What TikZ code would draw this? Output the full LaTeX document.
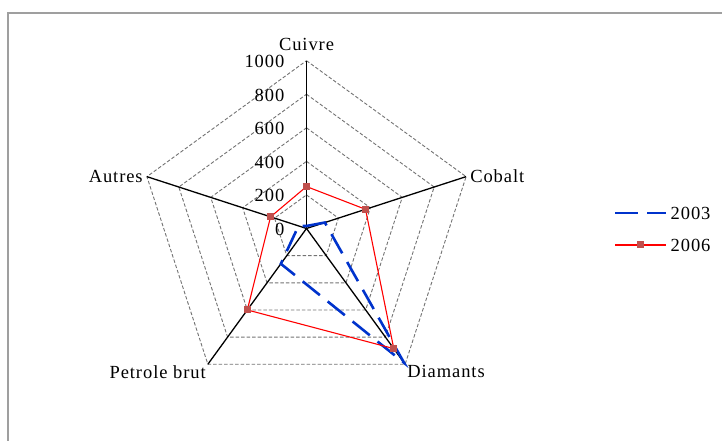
\documentclass[tikz,border=0pt]{standalone}
\usepackage{fontspec}
\setmainfont{Liberation Serif}[LetterSpace=5]
\usepackage{tikz}
\usetikzlibrary{arrows.meta}

\definecolor{serblue}{RGB}{0,51,204}
\definecolor{markred}{RGB}{192,80,77}
\newcommand{\unitR}{0.1678}

\tikzset{
  gridline/.style={black!55, dash pattern=on 3.5pt off 2pt, line width=0.9pt},
  spoke/.style={black, line width=1.3pt},
  ser03/.style={serblue, line width=2.6pt, dash pattern=on 22pt off 10pt},
  ser06/.style={red, line width=1.1pt},
  mark06/.style={fill=markred, inner sep=0pt, minimum size=7pt},
  axlabel/.style={inner sep=2pt},
}

\begin{document}
\begin{tikzpicture}[x=1pt, y=1pt, font=\fontsize{18.5}{20}\selectfont]
    \useasboundingbox (-306.5, -212.5) rectangle (415.5, 228.5); % REMOVE ME
    \draw[gray!75, line width=1.2pt] (-298.5, -212.5) -- (-298.5, 215.5) -- (415.5, 215.5);

    % grid
    \foreach \v in {200, 400, 600, 800, 1000}
        \draw[gridline] (90:\v*\unitR) -- (18:\v*\unitR) -- (-54:\v*\unitR)
            -- (-126:\v*\unitR) -- (162:\v*\unitR) -- cycle;

    % spokes
    \coordinate (o) at (0, 0);
    \foreach \ax/\ang in {cu/90, co/18, di/-54, pe/-126, au/162} {
        \coordinate (\ax) at (\ang:1000*\unitR);
        \draw[spoke] (o) -- (\ax);
    }

    % scale
    \foreach \v in {0, 200, 400, 600, 800, 1000}
        \node[anchor=east, inner sep=0pt] (t\v) at (-22, \v*\unitR-1) {\v};

    \node[axlabel, anchor=south] (lcu) at ([yshift=8pt]cu) {Cuivre};
    \node[axlabel, anchor=west] (lco) at ([xshift=2pt]co) {Cobalt};
    \node[axlabel, anchor=north west] (ldi) at ([yshift=1pt]di) {Diamants};
    \node[axlabel, anchor=north east] (lpe) at ([yshift=1pt]pe) {Petrole brut};
    \node[axlabel, anchor=east] (lau) at ([xshift=-2pt]au) {Autres};

    % 2003
    \foreach \ax/\ang/\v in {cu/90/15, co/18/115, di/-54/990, pe/-126/260, au/162/50}
        \coordinate (a\ax) at (\ang:\v*\unitR);
    \draw[ser03] (acu) -- (aco) -- (adi) -- (ape) -- (aau) -- cycle;

    % 2006
    \foreach \ax/\ang/\v in {cu/90/250, co/18/370, di/-54/885, pe/-126/600, au/162/225}
        \coordinate (b\ax) at (\ang:\v*\unitR);
    \draw[ser06] (bcu) -- (bco) -- (bdi) -- (bpe) -- (bau) -- cycle;
    \foreach \ax in {cu, co, di, pe, au}
        \node[mark06] (m\ax) at (b\ax) {};

    % legend
    \coordinate (k03a) at (308.5, 15.5);
    \coordinate (k03b) at (359.5, 15.5);
    \draw[ser03, dash pattern=on 23pt off 9pt] (k03a) -- (k03b);
    \node[anchor=west, inner sep=0pt] (k03) at (364, 15.5) {2003};
    \coordinate (k06a) at (308.5, -16.5);
    \coordinate (k06b) at (359.5, -16.5);
    \draw[ser06] (k06a) -- (k06b);
    \node[mark06] (k06m) at (334, -16.5) {};
    \node[anchor=west, inner sep=0pt] (k06) at (364, -16.5) {2006};
\end{tikzpicture}
\end{document}
